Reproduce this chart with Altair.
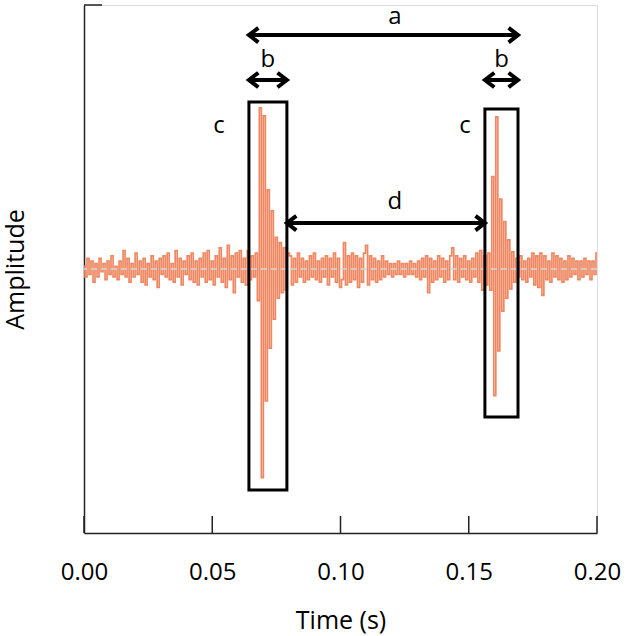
import altair as alt
import pandas as pd

# Recorded waveform, sampled every 2 px of the 0-0.2 s window (257 samples)
noise_before = [
    0.01, -0.03, 0.04, -0.02, 0.03, -0.05, 0.02, -0.03, 0.04, -0.01,
    0.02, -0.04, 0.03, -0.02, 0.05, -0.03, 0.01, -0.04, 0.03, -0.02,
    0.07, -0.03, 0.04, -0.05, 0.02, -0.03, 0.06, -0.02, 0.03, -0.05,
    0.04, -0.06, 0.02, -0.03, 0.05, -0.04, 0.03, -0.07, 0.04, -0.02,
    0.05, -0.03, 0.06, -0.04, 0.02, -0.05, 0.07, -0.03, 0.04, -0.06,
    0.03, -0.02, 0.05, -0.04, 0.06, -0.05, 0.03, -0.06, 0.04, -0.03,
    0.06, -0.05, 0.07, -0.04, 0.03, -0.06, 0.05, -0.03, 0.08, -0.05,
    0.04, -0.07, 0.09, -0.04, 0.05, -0.09, 0.06, -0.03, 0.07, -0.05,
    0.04, -0.06, 0.07, -0.04, 0.05, -0.03, 0.06,
]
burst_1 = [
    -0.12, 0.61, -0.79, 0.58, -0.50, 0.30, -0.30, 0.22,
    -0.19, 0.12, -0.11, 0.10, -0.09, 0.08, -0.08, 0.06,
]
noise_between = [
    0.05, -0.06, 0.04, -0.05, 0.06, -0.03, 0.04, -0.05, 0.03, -0.04,
    0.05, -0.03, 0.06, -0.04, 0.03, -0.05, 0.04, -0.03, 0.05, -0.06,
    0.04, -0.03, 0.06, -0.05, 0.04, -0.07, -0.04, 0.10, -0.06, 0.05,
    -0.05, 0.06, -0.04, 0.05, -0.07, 0.04, -0.05, 0.06, 0.09, -0.06,
    0.05, -0.04, 0.04, -0.05, 0.03, -0.04, 0.05, -0.03, 0.03, -0.02,
    0.02, -0.03, 0.02, -0.02, 0.03, -0.02, 0.02, -0.03, 0.02, -0.02,
    0.03, -0.02, 0.02, -0.03, 0.03, -0.04, 0.04, -0.03, 0.05, -0.09,
    0.04, -0.05, 0.03, -0.04, 0.05, -0.03, 0.04, -0.05, 0.03, -0.04,
    0.05, 0.08, -0.04, 0.05, -0.05, 0.04, -0.03, 0.05, -0.04, 0.03,
    -0.05, 0.04, -0.03, 0.06, -0.05, 0.07, -0.08, 0.05, -0.06, 0.06,
    -0.08,
]
burst_2 = [
    0.35, -0.48, 0.576, -0.31, 0.265, -0.16,
    0.18, -0.11, 0.11, -0.075, 0.065, -0.05,
]
noise_after = [
    0.04, -0.03, 0.05, -0.04, 0.03, -0.05, 0.04, -0.03, 0.06, -0.06,
    0.05, -0.07, 0.06, -0.10, 0.05, -0.04, 0.03, -0.05, 0.06, -0.03,
    0.05, -0.04, 0.04, -0.05, 0.03, -0.04, 0.05, -0.03, 0.04, -0.02,
    0.03, -0.04, 0.03, -0.03, 0.04, -0.02, 0.03, -0.04, 0.03, -0.02,
    0.06,
]

amplitude = noise_before + burst_1 + noise_between + burst_2 + noise_after
T_END = 0.2
step = T_END / (len(amplitude) - 1)
wave = pd.DataFrame({"t": [i * step for i in range(len(amplitude))], "amp": amplitude})

# Event windows (c) around each burst
box_x0 = [0.0643, 0.1563]
box_x1 = [0.0791, 0.1692]
box_top = [0.633, 0.606]
box_bottom = [-0.837, -0.561]
boxes = pd.DataFrame({"t": box_x0, "t_end": box_x1, "amp": box_top, "amp_end": box_bottom})

# Double-headed interval arrows: a (period), b (durations), d (gap)
arrow_x0 = [0.0643, 0.0643, 0.1563, 0.0791]
arrow_x1 = [0.1692, 0.0791, 0.1692, 0.1563]
arrow_y = [0.886, 0.716, 0.716, 0.174]
arrows = pd.DataFrame({"t": arrow_x0, "t_end": arrow_x1, "amp": arrow_y})

label_text = ["a", "b", "b", "c", "c", "d"]
label_x = [0.1212, 0.0717, 0.1628, 0.0526, 0.1485, 0.1212]
label_y = [0.955, 0.792, 0.792, 0.542, 0.542, 0.254]
labels = pd.DataFrame({"text": label_text, "t": label_x, "amp": label_y})

tick_values = [0.0, 0.05, 0.10, 0.15, 0.20]
ticks = pd.DataFrame({"t": tick_values})

W, H = 513, 528
FONT = "Open Sans"
INK = "#222222"
x_scale = alt.Scale(domain=[0, T_END], nice=False, zero=False)
y_scale = alt.Scale(domain=[-1, 1], nice=False)

X = alt.X(
    "t:Q",
    scale=x_scale,
    axis=alt.Axis(
        title="Time (s)",
        values=tick_values,
        format=".2f",
        ticks=False,
        grid=False,
        labelFlush=False,
        labelPadding=27,
        titlePadding=24,
        domainColor=INK,
        domainWidth=1.5,
        labelFontSize=24,
        titleFontSize=25,
        labelColor="black",
        titleColor="black",
        titleFontWeight="normal",
        labelFont=FONT,
        titleFont=FONT,
    ),
)
Y = alt.Y(
    "amp:Q",
    scale=y_scale,
    axis=alt.Axis(
        title="Amplitude",
        labels=False,
        ticks=False,
        grid=False,
        titlePadding=56,
        domainColor=INK,
        domainWidth=1.5,
        titleFontSize=25,
        titleColor="black",
        titleFontWeight="normal",
        titleFont=FONT,
    ),
)

line = alt.Chart(wave).mark_line(
    color="#EF8862", strokeWidth=1.7, interpolate="step"
).encode(x=X, y=Y)

zero_line = alt.Chart(pd.DataFrame({"amp": [0.0]})).mark_rule(
    color="#d6d6d6", strokeWidth=1.5, strokeDash=[6, 4]
).encode(y=Y)

x_ticks = alt.Chart(ticks).mark_rule(color=INK, strokeWidth=1.5).encode(
    x=X,
    y=alt.value(H),
    y2=alt.value(H - 17),
)

y_top_tick = alt.Chart(pd.DataFrame({"amp": [1.0]})).mark_rule(
    color=INK, strokeWidth=1.5
).encode(
    y=Y,
    x=alt.value(0),
    x2=alt.value(18),
)

rects = alt.Chart(boxes).mark_rect(
    fillOpacity=0, stroke="black", strokeWidth=3
).encode(x=X, x2="t_end:Q", y=Y, y2="amp_end:Q")

shafts = alt.Chart(arrows).mark_rule(color="black", strokeWidth=4).encode(
    x=X, x2="t_end:Q", y=Y
)

head_style = dict(filled=False, stroke="black", strokeWidth=4, size=210, opacity=1, strokeJoin="miter")
left_heads = alt.Chart(arrows).mark_point(
    shape="M 1.3 -1 L 0 0 L 1.3 1", **head_style
).encode(x=X, y=Y)
right_heads = alt.Chart(arrows).transform_calculate(t="datum.t_end").mark_point(
    shape="M -1.3 -1 L 0 0 L -1.3 1", **head_style
).encode(x=X, y=Y)

texts = alt.Chart(labels).mark_text(
    font=FONT, fontSize=24, color="black", align="center", baseline="middle"
).encode(x=X, y=Y, text="text:N")

chart = (
    alt.layer(line, zero_line, x_ticks, y_top_tick, rects, shafts, left_heads, right_heads, texts)
    .properties(
        width=W,
        height=H,
        autosize=alt.AutoSizeParams(type="none"),
        padding={"left": 84, "top": 5, "right": 36, "bottom": 103},
        background="white",
    )
    .configure_view(stroke=None)
    .configure(font=FONT)
)

chart.save("out.html", embed_options={"renderer": "svg", "actions": False})
